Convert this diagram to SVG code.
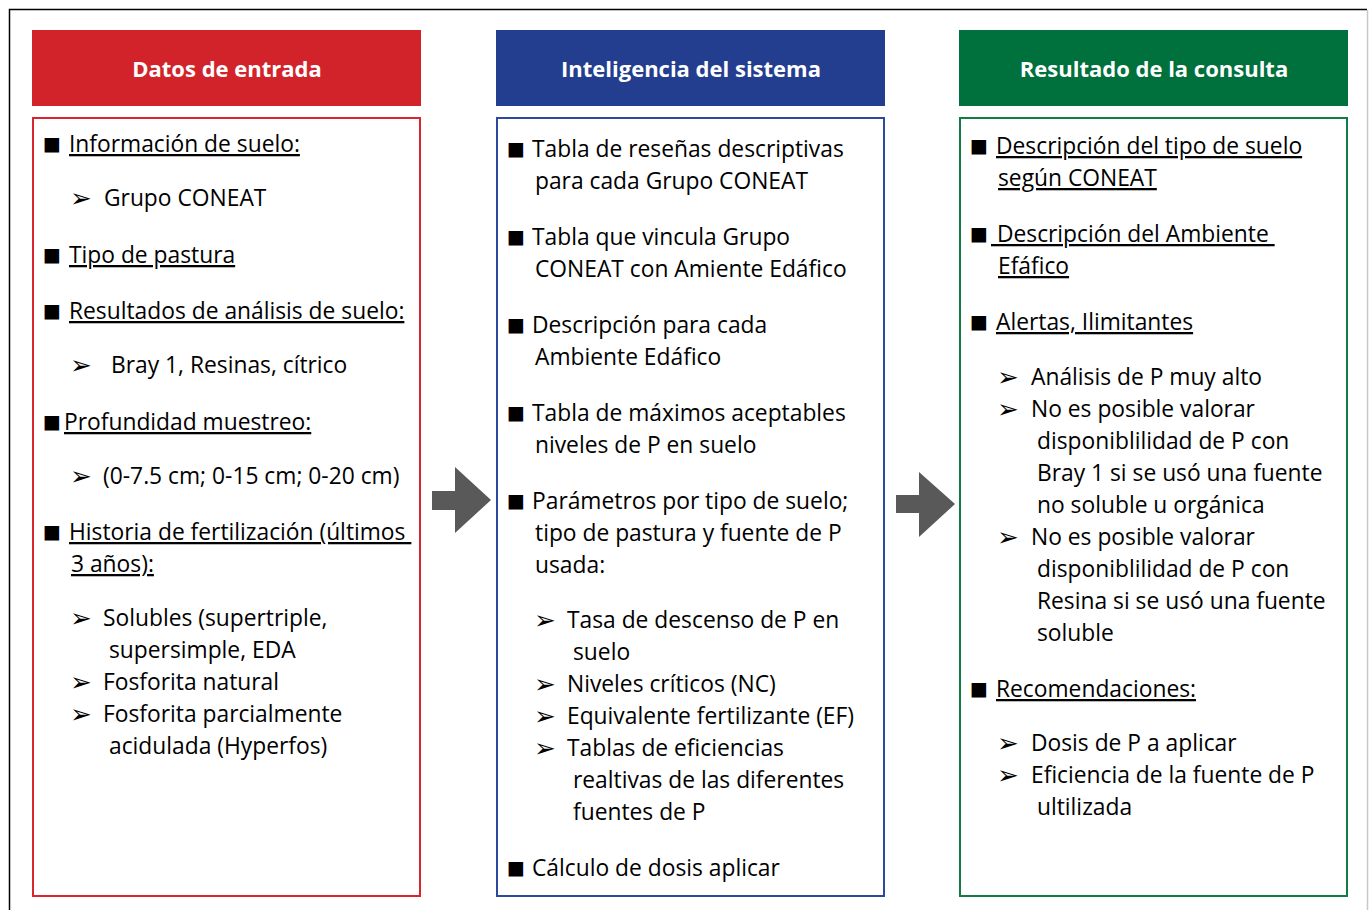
<svg xmlns="http://www.w3.org/2000/svg" width="1370" height="910" viewBox="0 0 1370 910">
<style>
.t{font-family:"Open Sans","Liberation Sans",sans-serif;font-size:22.8px;fill:#000;white-space:pre}
.u{text-decoration:underline}
.h{font-family:"Open Sans","Liberation Sans",sans-serif;font-size:22px;font-weight:bold;fill:#fff;text-anchor:middle}
.sq{font-family:"DejaVu Sans",sans-serif;font-size:19px;fill:#000}
.ar{font-family:"DejaVu Sans",sans-serif;font-size:26px;fill:#000}
</style>
<rect width="1370" height="910" fill="#fff"/>
<path d="M9.5,910 V9.5 H1367" fill="none" stroke="#000" stroke-width="1.5"/>
<path d="M1367.5,10 V910" fill="none" stroke="#c8c8c8" stroke-width="1.5"/>

<g id="connectors" fill="#595959">
<polygon points="432,491 455,491 455,467 491,500 455,533 455,510 432,510"/>
<polygon points="896,495 919,495 919,472 955,504 919,537 919,513 896,513"/>
</g>

<g id="datos-entrada">
<rect x="32" y="30" width="389" height="76" fill="#D2232A"/>
<text class="h" x="227" y="77">Datos de entrada</text>
<rect x="33" y="118" width="387" height="778" fill="none" stroke="#D9262E" stroke-width="2"/>
<g transform="translate(0,1)">
<text class="sq" x="43" y="149">■</text><text class="t u" x="69" y="151">Información de suelo:</text>
<text class="ar" x="70" y="206">➢</text><text class="t" x="104" y="205">Grupo CONEAT</text>
<text class="sq" x="43" y="260">■</text><text class="t u" x="69" y="262">Tipo de pastura</text>
<text class="sq" x="43" y="316">■</text><text class="t u" x="69" y="318">Resultados de análisis de suelo:</text>
<text class="ar" x="70" y="373">➢</text><text class="t" x="111" y="372">Bray 1, Resinas, cítrico</text>
<text class="sq" x="43" y="427">■</text><text class="t u" x="64" y="429">Profundidad muestreo:</text>
<text class="ar" x="70" y="484">➢</text><text class="t" x="103" y="483">(0-7.5 cm; 0-15 cm; 0-20 cm)</text>
<text class="sq" x="43" y="537">■</text><text class="t u" x="69" y="539">Historia de fertilización (últimos </text>
<text class="t u" x="71" y="571">3 años):</text>
<text class="ar" x="70" y="626">➢</text><text class="t" x="103" y="625">Solubles (supertriple,</text>
<text class="t" x="109" y="657">supersimple, EDA</text>
<text class="ar" x="70" y="690">➢</text><text class="t" x="103" y="689">Fosforita natural</text>
<text class="ar" x="70" y="722">➢</text><text class="t" x="103" y="721">Fosforita parcialmente</text>
<text class="t" x="109" y="753">acidulada (Hyperfos)</text>
</g>
</g>

<g id="inteligencia-sistema">
<rect x="496" y="30" width="389" height="76" fill="#233E8E"/>
<text class="h" x="691" y="77">Inteligencia del sistema</text>
<rect x="497" y="118" width="387" height="778" fill="none" stroke="#2B4A9E" stroke-width="2"/>
<g transform="translate(0,1)">
<text class="sq" x="507" y="154">■</text><text class="t" x="532" y="156">Tabla de reseñas descriptivas</text>
<text class="t" x="535" y="188">para cada Grupo CONEAT</text>
<text class="sq" x="507" y="242">■</text><text class="t" x="532" y="244">Tabla que vincula Grupo</text>
<text class="t" x="535" y="276">CONEAT con Amiente Edáfico</text>
<text class="sq" x="507" y="330">■</text><text class="t" x="532" y="332">Descripción para cada</text>
<text class="t" x="535" y="364">Ambiente Edáfico</text>
<text class="sq" x="507" y="418">■</text><text class="t" x="532" y="420">Tabla de máximos aceptables</text>
<text class="t" x="535" y="452">niveles de P en suelo</text>
<text class="sq" x="507" y="506">■</text><text class="t" x="532" y="508">Parámetros por tipo de suelo;</text>
<text class="t" x="535" y="540">tipo de pastura y fuente de P</text>
<text class="t" x="535" y="572">usada:</text>
<text class="ar" x="534" y="628">➢</text><text class="t" x="567" y="627">Tasa de descenso de P en</text>
<text class="t" x="573" y="659">suelo</text>
<text class="ar" x="534" y="692">➢</text><text class="t" x="567" y="691">Niveles críticos (NC)</text>
<text class="ar" x="534" y="724">➢</text><text class="t" x="567" y="723">Equivalente fertilizante (EF)</text>
<text class="ar" x="534" y="756">➢</text><text class="t" x="567" y="755">Tablas de eficiencias</text>
<text class="t" x="573" y="787">realtivas de las diferentes</text>
<text class="t" x="573" y="819">fuentes de P</text>
<text class="sq" x="507" y="873">■</text><text class="t" x="532" y="875">Cálculo de dosis aplicar</text>
</g>
</g>

<g id="resultado-consulta">
<rect x="959" y="30" width="389" height="76" fill="#00703C"/>
<text class="h" x="1154" y="77">Resultado de la consulta</text>
<rect x="960" y="118" width="387" height="778" fill="none" stroke="#147A46" stroke-width="2"/>
<g transform="translate(0,1)">
<text class="sq" x="970" y="151">■</text><text class="t u" x="996" y="153">Descripción del tipo de suelo</text>
<text class="t u" x="998" y="185">según CONEAT</text>
<text class="sq" x="970" y="239">■</text><text class="t u" x="991" y="241"> Descripción del Ambiente </text>
<text class="t u" x="998" y="273">Efáfico</text>
<text class="sq" x="970" y="327">■</text><text class="t u" x="996" y="329">Alertas, Ilimitantes</text>
<text class="ar" x="997" y="385">➢</text><text class="t" x="1031" y="384">Análisis de P muy alto</text>
<text class="ar" x="997" y="417">➢</text><text class="t" x="1031" y="416">No es posible valorar</text>
<text class="t" x="1037" y="448">disponiblilidad de P con</text>
<text class="t" x="1037" y="480">Bray 1 si se usó una fuente</text>
<text class="t" x="1037" y="512">no soluble u orgánica</text>
<text class="ar" x="997" y="545">➢</text><text class="t" x="1031" y="544">No es posible valorar</text>
<text class="t" x="1037" y="576">disponiblilidad de P con</text>
<text class="t" x="1037" y="608">Resina si se usó una fuente</text>
<text class="t" x="1037" y="640">soluble</text>
<text class="sq" x="970" y="694">■</text><text class="t u" x="996" y="696">Recomendaciones:</text>
<text class="ar" x="997" y="751">➢</text><text class="t" x="1031" y="750">Dosis de P a aplicar</text>
<text class="ar" x="997" y="783">➢</text><text class="t" x="1031" y="782">Eficiencia de la fuente de P</text>
<text class="t" x="1037" y="814">ultilizada</text>
</g>
</g>
</svg>
